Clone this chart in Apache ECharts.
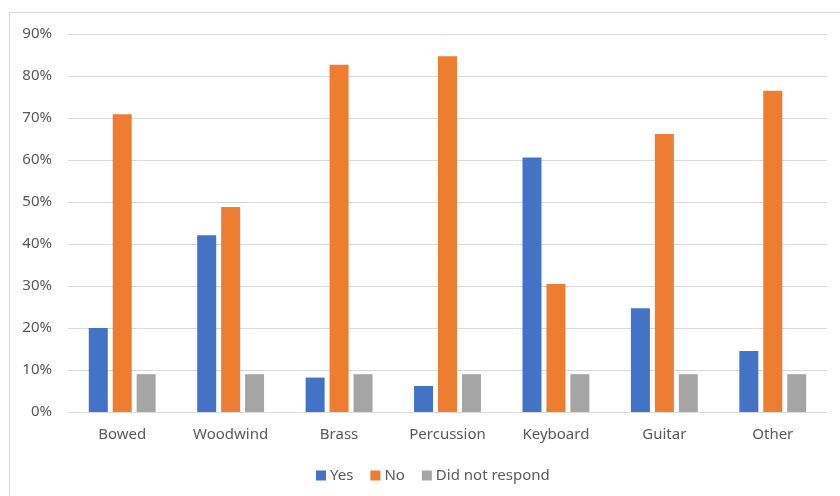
<!DOCTYPE html>
<html>
<head>
<meta charset="utf-8">
<script src="https://cdn.jsdelivr.net/npm/echarts@6/dist/echarts.min.js"></script>
<style>html,body{margin:0;padding:0;background:#fff}#c{width:840px;height:496px}</style>
</head>
<body>
<div id="c"></div>
<script>
var categories = ['Bowed', 'Woodwind', 'Brass', 'Percussion', 'Keyboard', 'Guitar', 'Other'];
var yesValues = [20.0, 42.1, 8.2, 6.2, 60.6, 24.7, 14.5];
var noValues = [70.9, 48.8, 82.7, 84.7, 30.5, 66.2, 76.5];
var didNotRespondValues = [9.0, 9.0, 9.0, 9.0, 9.0, 9.0, 9.0];
var seriesNames = ['Yes', 'No', 'Did not respond'];
var yTicks = { min: 0, max: 90, interval: 10 };

var FONT = 'Noto Sans';
var TEXT = '#595959';
var chart = echarts.init(document.getElementById('c'), null, { renderer: 'canvas' });
function bar(name, data, color) {
  return {
    name: name, type: 'bar', data: data, barWidth: 19, barGap: '26%',
    itemStyle: { color: color }, emphasis: { disabled: true }
  };
}
chart.setOption({
  animation: false,
  color: ['#4472C4', '#ED7D31', '#A5A5A5'],
  graphic: [{
    type: 'rect', silent: true,
    shape: { x: 9.5, y: 12.5, width: 840, height: 500 },
    style: { fill: 'none', stroke: '#d9d9d9', lineWidth: 1 }
  }],
  grid: { left: 68, right: 13, top: 34, bottom: 84, containLabel: false },
  legend: {
    data: seriesNames, left: 316, top: 468, padding: 0, itemWidth: 10, itemHeight: 10, itemGap: 17,
    icon: 'rect',
    textStyle: { fontFamily: FONT, fontSize: 15, color: TEXT, padding: [0, 0, 0, -1] }
  },
  xAxis: {
    type: 'category', data: categories,
    axisLine: { lineStyle: { color: '#d9d9d9', width: 1 } },
    axisTick: { show: false },
    axisLabel: { fontFamily: FONT, fontSize: 15, color: TEXT, margin: 15 }
  },
  yAxis: {
    type: 'value', min: yTicks.min, max: yTicks.max, interval: yTicks.interval,
    axisLine: { show: false }, axisTick: { show: false },
    splitLine: { lineStyle: { color: '#d9d9d9', width: 1 } },
    axisLabel: { fontFamily: FONT, fontSize: 15, color: TEXT, margin: 16, formatter: '{value}%' }
  },
  series: [
    bar(seriesNames[0], yesValues, '#4472C4'),
    bar(seriesNames[1], noValues, '#ED7D31'),
    bar(seriesNames[2], didNotRespondValues, '#A5A5A5')
  ]
});
</script>
</body>
</html>
